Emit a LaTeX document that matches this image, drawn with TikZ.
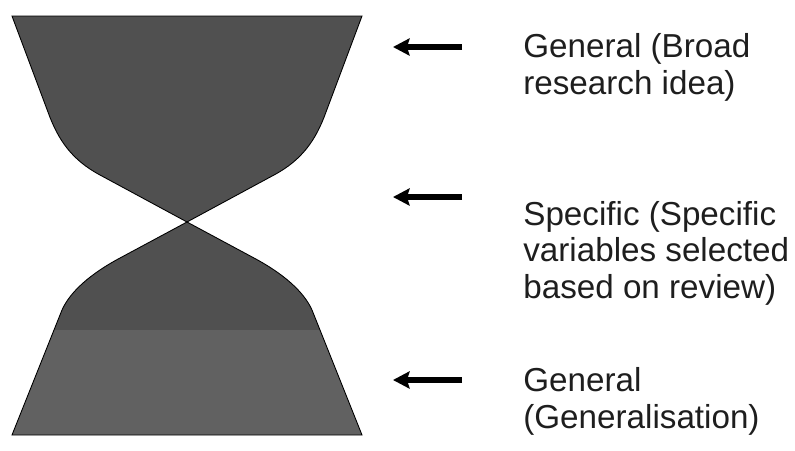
\documentclass[tikz,border=0pt]{standalone}
\usepackage{fontspec}
\setmainfont{Liberation Sans}
\usepackage{xcolor}
\usepackage{tikz}
\usetikzlibrary{arrows.meta, positioning, calc}
\definecolor{bulbcolor}{RGB}{80, 80, 80}
\definecolor{basecolor}{RGB}{97, 97, 97}
\definecolor{textcolor}{RGB}{30, 30, 30}

\begin{document}
\begin{tikzpicture}[
    x=0.02cm, y=-0.02cm,
    bulb/.style={draw=black, line width=0.5pt, fill=bulbcolor, line join=miter},
    pointer/.style={line width=3.4pt, -{Stealth[length=0.33cm, width=0.34cm, inset=0.05cm]}},
    label/.style={anchor=base west, inner sep=0pt, align=left, text=textcolor, font=\fontsize{18.9}{20.6}\selectfont},
]
    \useasboundingbox (0, 0) rectangle (795, 450);

    % Hourglass
    \coordinate (waist) at (187, 222);
    \draw[bulb] (waist) -- (100, 175) .. controls (72, 160) and (58, 140) .. (48, 112)
        -- (12, 16) -- (362, 16) -- (326, 112) .. controls (316, 140) and (302, 160) .. (274, 175)
        -- cycle;
    \begin{scope}
        \path[clip] (waist) -- (120, 258) .. controls (90, 274) and (70, 292) .. (62, 310)
            -- (12, 435) -- (362, 435) -- (312, 310) .. controls (304, 292) and (284, 274) .. (254, 258)
            -- cycle;
        \fill[bulbcolor] (0, 200) rectangle (400, 330);
        \fill[basecolor] (0, 330) rectangle (400, 440);
    \end{scope}
    \draw[bulb, fill=none] (waist) -- (120, 258) .. controls (90, 274) and (70, 292) .. (62, 310)
        -- (12, 435) -- (362, 435) -- (312, 310) .. controls (304, 292) and (284, 274) .. (254, 258)
        -- cycle;

    % Labels (anchored at the baseline of the last line)
    \node[label] (broad) at (523, 94) {General (Broad\\research idea)};
    \node[label] (specific) at (523, 298) {Specific (Specific\\variables selected\\based on review)};
    \node[label] (generalisation) at (523, 428) {General\\(Generalisation)};

    % Pointers
    \coordinate (broad tail) at (462, 47);
    \coordinate (broad tip) at (393, 47);
    \coordinate (specific tail) at (462, 197);
    \coordinate (specific tip) at (393, 197);
    \coordinate (generalisation tail) at (462, 380);
    \coordinate (generalisation tip) at (393, 380);
    \draw[pointer] (broad tail) -- (broad tip);
    \draw[pointer] (specific tail) -- (specific tip);
    \draw[pointer] (generalisation tail) -- (generalisation tip);

\end{tikzpicture}
\end{document}
